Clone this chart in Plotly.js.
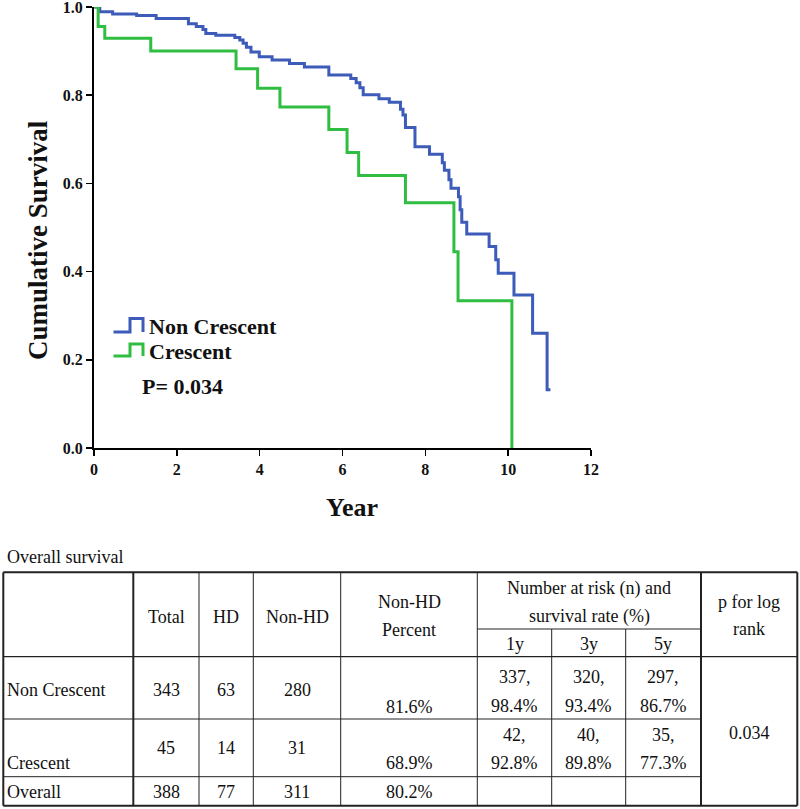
<!DOCTYPE html>
<html><head><meta charset="utf-8">
<script src="https://cdn.plot.ly/plotly-3.0.1.min.js"></script>
<style>html,body{margin:0;padding:0;background:#fff}</style>
</head><body>
<div id="chart" style="width:800px;height:809px"></div>
<script>
// ---- Kaplan-Meier data ----
const nonCrescentTime = [0, 0.14, 0.45, 1.03, 1.50, 2.28, 2.47, 2.63, 2.70, 2.94, 3.40, 3.52, 3.60, 3.68, 3.79, 3.99, 4.30, 4.72, 5.08, 5.67, 6.20, 6.33, 6.42, 6.50, 6.88, 7.13, 7.40, 7.46, 7.52, 7.75, 8.10, 8.41, 8.46, 8.57, 8.62, 8.80, 8.84, 8.88, 9.00, 9.54, 9.70, 9.76, 10.14, 10.59, 10.94, 11.02];
const nonCrescentSurv = [1.0, 0.989, 0.984, 0.981, 0.974, 0.962, 0.956, 0.949, 0.940, 0.936, 0.931, 0.925, 0.918, 0.909, 0.898, 0.887, 0.880, 0.872, 0.864, 0.846, 0.838, 0.828, 0.817, 0.801, 0.792, 0.784, 0.768, 0.755, 0.727, 0.683, 0.666, 0.647, 0.630, 0.608, 0.589, 0.570, 0.540, 0.512, 0.485, 0.457, 0.427, 0.396, 0.347, 0.260, 0.132, 0.132];
const crescentTime = [0, 0.10, 0.26, 1.37, 3.43, 3.95, 4.49, 5.67, 6.11, 6.39, 7.52, 8.69, 8.79, 10.09];
const crescentSurv = [1.0, 0.956, 0.929, 0.900, 0.860, 0.816, 0.773, 0.722, 0.670, 0.618, 0.556, 0.445, 0.334, 0.0];
const xTickVals = [0, 2, 4, 6, 8, 10, 12];
const yTickVals = [0.0, 0.2, 0.4, 0.6, 0.8, 1.0];
const groupNames = ['Non Crescent', 'Crescent'];
const pText = 'P= 0.034';
const xTitle = 'Year';
const yTitle = 'Cumulative Survival';

// ---- Table data ----
const tableCaption = 'Overall survival';
const rowLabels = ['Non Crescent', 'Crescent', 'Overall'];
const colTotal = ['343', '45', '388'];
const colHD = ['63', '14', '77'];
const colNonHD = ['280', '31', '311'];
const colNonHDPct = ['81.6%', '68.9%', '80.2%'];
const risk1yN = ['337,', '42,'];
const risk1yPct = ['98.4%', '92.8%'];
const risk3yN = ['320,', '40,'];
const risk3yPct = ['93.4%', '89.8%'];
const risk5yN = ['297,', '35,'];
const risk5yPct = ['86.7%', '77.3%'];
const logRankP = '0.034';

const BLUE = '#3d5bb8', GREEN = '#30be42';
const SERIF = 'Liberation Serif, Times New Roman, serif';

// plot area geometry (pixels)
const L = 94, R = 591, T = 7, B = 448;
const W = R - L, H = B - T;
const X = px => (px - L) / W;
const Y = py => (B - py) / H;

const traces = [
  {x: nonCrescentTime, y: nonCrescentSurv, mode: 'lines', name: groupNames[0],
   line: {shape: 'hv', color: BLUE, width: 3}, showlegend: false, hoverinfo: 'skip'},
  {x: crescentTime, y: crescentSurv, mode: 'lines', name: groupNames[1],
   line: {shape: 'hv', color: GREEN, width: 3}, showlegend: false, hoverinfo: 'skip'}
];

const ann = [];
const shapes = [];
function txt(t, px, py, opt) {
  opt = opt || {};
  ann.push(Object.assign({text: t, x: X(px), y: Y(py), xref: 'paper', yref: 'paper',
    xanchor: 'center', yanchor: 'middle', showarrow: false,
    font: {family: SERIF, size: 18, color: '#111'}}, opt));
}
function line(x0, y0, x1, y1, w) {
  shapes.push({type: 'line', xref: 'paper', yref: 'paper', x0: X(x0), y0: Y(y0), x1: X(x1), y1: Y(y1),
    line: {color: '#222', width: w || 1}});
}

// axis titles
txt(xTitle, 352, 507, {font: {family: SERIF, size: 26, color: '#111', weight: 'bold'}});
txt(yTitle, 38, 240, {textangle: -90, font: {family: SERIF, size: 27, color: '#111', weight: 'bold'}});

// legend (custom step icons)
const bold22 = {family: SERIF, size: 22, color: '#111', weight: 'bold'};
function stepIcon(color, yl, yh) {
  const p = 'M' + X(113.5) + ',' + Y(yl) + ' L' + X(130) + ',' + Y(yl) + ' L' + X(130) + ',' + Y(yh) +
            ' L' + X(143) + ',' + Y(yh) + ' L' + X(143) + ',' + Y(yl);
  shapes.push({type: 'path', xref: 'paper', yref: 'paper', path: p, line: {color: color, width: 3}});
}
stepIcon(BLUE, 332, 318.5);
stepIcon(GREEN, 356, 344);
txt(groupNames[0], 147, 326.5, {xanchor: 'left', font: bold22});
txt(groupNames[1], 147, 351.5, {xanchor: 'left', font: bold22});
txt(pText, 140, 386.5, {xanchor: 'left', font: bold22});

// ---- table ----
const xL = 3.3, xRr = 797.3, yTop = 572.3, yBot = 805.7;
const cols = [133.3, 199, 253.3, 340.7, 477.3, 551.7, 625.7, 701];
const yRisk = 629, yHead = 656.7, yR1 = 719, yR2 = 776.7;
// outer border
line(xL, yTop, xRr, yTop, 2); line(xL, yBot, xRr, yBot, 2);
line(xL, yTop, xL, yBot, 2); line(xRr, yTop, xRr, yBot, 2);
// horizontals
line(cols[4], yRisk, cols[7], yRisk, 1);
line(xL, yHead, xRr, yHead, 1.2);
line(xL, yR1, cols[7], yR1, 1);
line(xL, yR2, cols[7], yR2, 1);
// verticals
line(cols[0], yTop, cols[0], yBot, 2);
line(cols[1], yTop, cols[1], yBot, 1);
line(cols[2], yTop, cols[2], yBot, 1);
line(cols[3], yTop, cols[3], yBot, 1);
line(cols[4], yTop, cols[4], yBot, 1);
line(cols[5], yRisk, cols[5], yBot, 1);
line(cols[6], yRisk, cols[6], yBot, 1);
line(cols[7], yTop, cols[7], yBot, 2);

const cx = (a, b) => (a + b) / 2;
txt(tableCaption, 5, 557, {xanchor: 'left'});
// headers
txt('Total', cx(cols[0], cols[1]), 616.7);
txt('HD', cx(cols[1], cols[2]), 616.7);
txt('Non-HD', cx(cols[2], cols[3]), 616.7);
txt('Non-HD', cx(cols[3], cols[4]), 601.7);
txt('Percent', cx(cols[3], cols[4]), 630);
txt('Number at risk (n) and', cx(cols[4], cols[7]), 588.3);
txt('survival rate (%)', cx(cols[4], cols[7]), 616);
txt('1y', cx(cols[4], cols[5]), 644);
txt('3y', cx(cols[5], cols[6]), 644);
txt('5y', cx(cols[6], cols[7]), 644);
txt('p for log', cx(cols[7], xRr), 601.7);
txt('rank', cx(cols[7], xRr), 629.3);
// rows
const rowMid = [690, 748.3, 791.7];
const rowLow = [706.7, 762.7, 791.7];
const rowLabelY = [690, 762.7, 791.7];
for (let i = 0; i < 3; i++) {
  txt(rowLabels[i], 5, rowLabelY[i], {xanchor: 'left'});
  txt(colTotal[i], cx(cols[0], cols[1]), rowMid[i]);
  txt(colHD[i], cx(cols[1], cols[2]), rowMid[i]);
  txt(colNonHD[i], cx(cols[2], cols[3]), rowMid[i]);
  txt(colNonHDPct[i], cx(cols[3], cols[4]), rowLow[i]);
}
const riskTop = [676.7, 735], riskBot = [705.7, 762.7];
for (let i = 0; i < 2; i++) {
  txt(risk1yN[i], cx(cols[4], cols[5]), riskTop[i]);
  txt(risk1yPct[i], cx(cols[4], cols[5]), riskBot[i]);
  txt(risk3yN[i], cx(cols[5], cols[6]), riskTop[i]);
  txt(risk3yPct[i], cx(cols[5], cols[6]), riskBot[i]);
  txt(risk5yN[i], cx(cols[6], cols[7]), riskTop[i]);
  txt(risk5yPct[i], cx(cols[6], cols[7]), riskBot[i]);
}
txt(logRankP, cx(cols[7], xRr), 732.7);

const axisFont = {family: SERIF, size: 16, color: '#111', weight: 'bold'};
const layout = {
  width: 800, height: 809,
  margin: {l: L, r: 800 - R, t: T, b: 809 - B, pad: 0},
  paper_bgcolor: '#fff', plot_bgcolor: '#fff',
  showlegend: false,
  xaxis: {range: [0, 12], tickvals: xTickVals, ticktext: xTickVals.map(String),
    showline: true, linecolor: '#000', linewidth: 2, ticks: 'outside', ticklen: 6, tickwidth: 1.5,
    tickcolor: '#000', showgrid: false, zeroline: false, tickfont: axisFont, ticklabeloverflow: 'allow'},
  yaxis: {range: [0, 1], tickvals: yTickVals, ticktext: yTickVals.map(v => v.toFixed(1)),
    showline: true, linecolor: '#000', linewidth: 2, ticks: 'outside', ticklen: 6, tickwidth: 1.5,
    tickcolor: '#000', showgrid: false, zeroline: false, tickfont: axisFont, ticklabeloverflow: 'allow'},
  annotations: ann,
  shapes: shapes
};
Plotly.newPlot('chart', traces, layout, {displayModeBar: false, staticPlot: true});
</script>
</body></html>
